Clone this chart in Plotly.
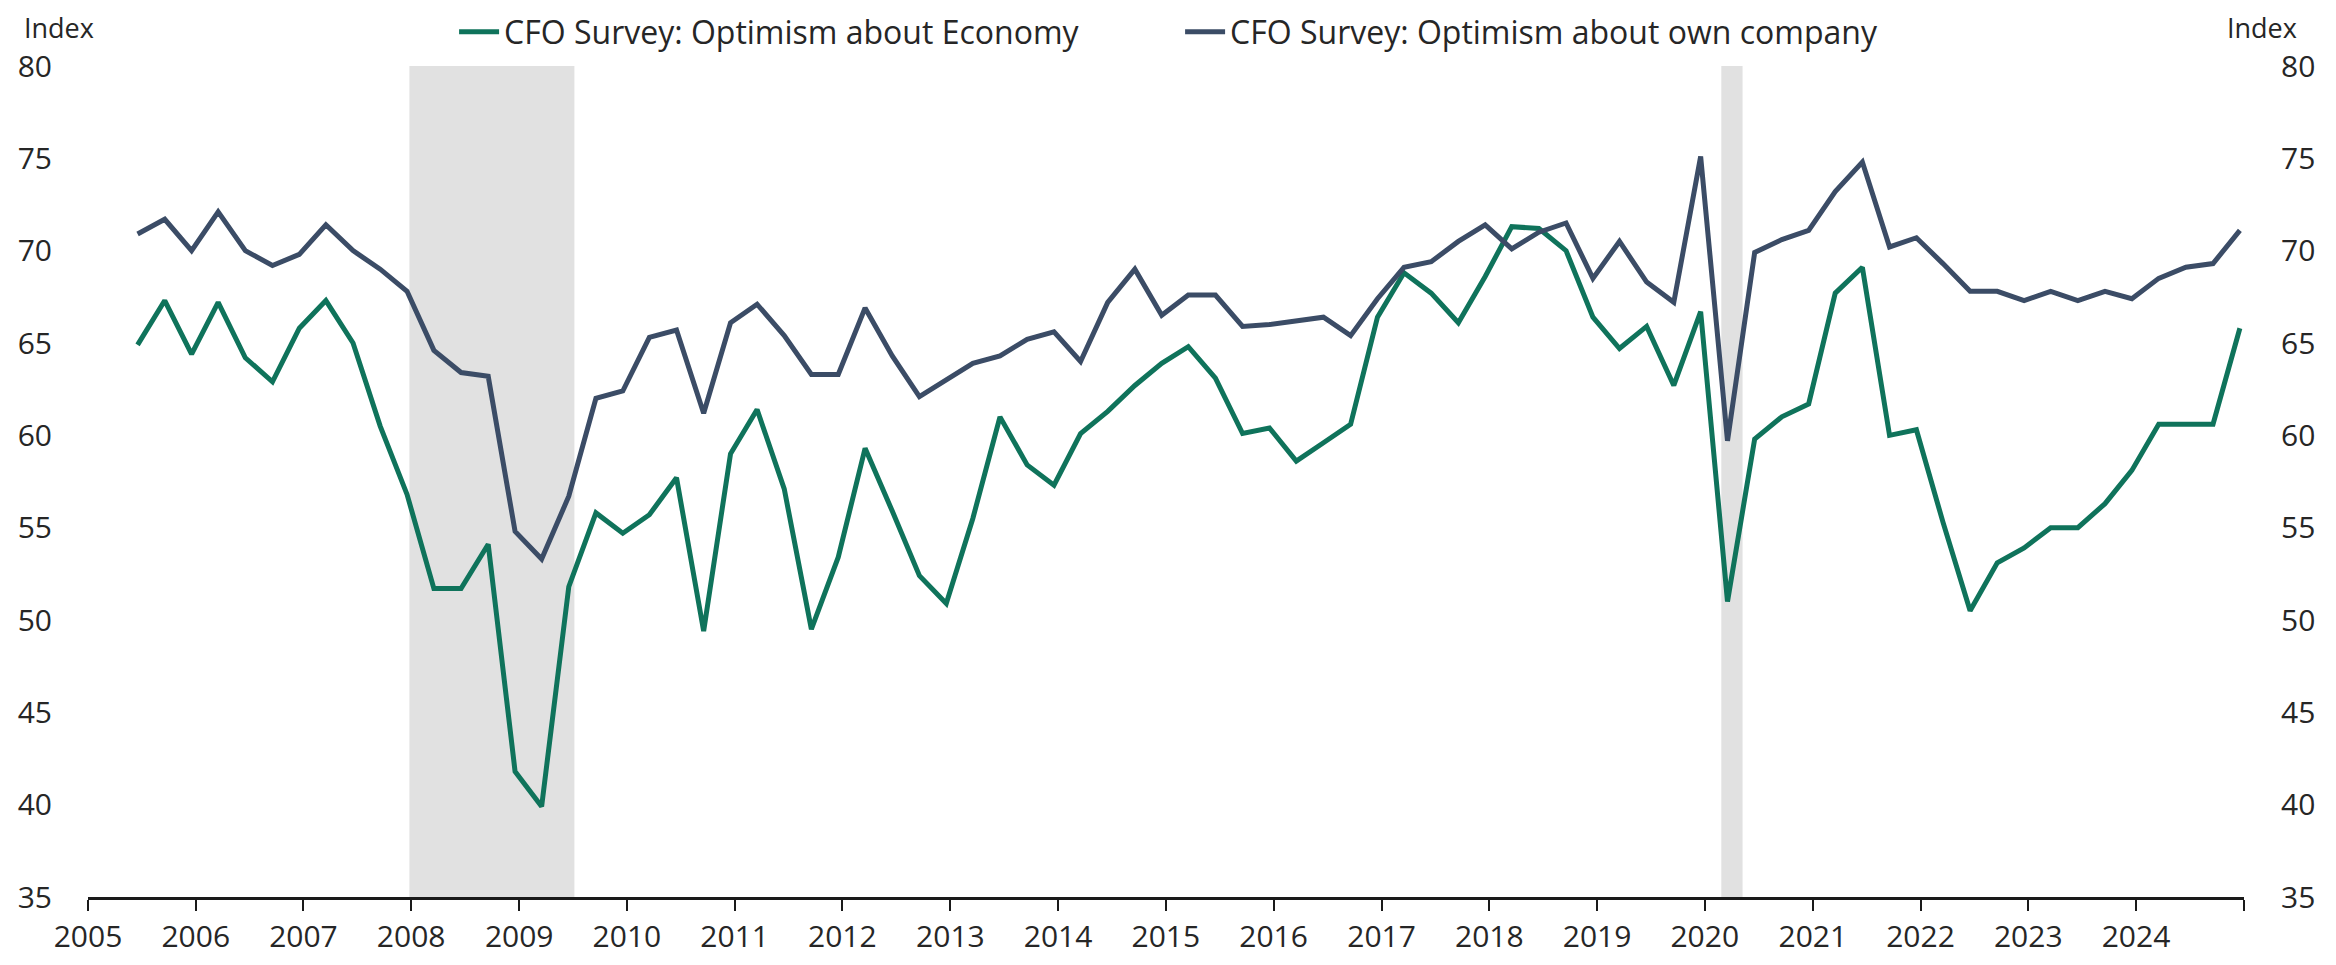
import plotly.graph_objects as go

# ---- Data (quarterly, Jun 2005 .. Dec 2024) ----
years = list(range(2005, 2025))
quarter_months = [3, 6, 9, 12]
dates = [f"{y}-{m:02d}-18" for y in years for m in quarter_months if not (y == 2005 and m == 3)]

economy = [
    64.9, 67.3, 64.4,
    67.2, 64.2, 62.9, 65.8,
    67.3, 65.0, 60.5, 56.8,
    51.7, 51.7, 54.1, 41.8,
    39.9, 51.8, 55.8, 54.7,
    55.7, 57.7, 49.4, 59.0,
    61.4, 57.1, 49.5, 53.4,
    59.3, 55.9, 52.4, 50.9,
    55.5, 61.0, 58.4, 57.3,
    60.1, 61.3, 62.7, 63.9,
    64.8, 63.1, 60.1, 60.4,
    58.6, 59.6, 60.6, 66.4,
    68.8, 67.7, 66.1, 68.6,
    71.3, 71.2, 70.0, 66.4,
    64.7, 65.9, 62.7, 66.7,
    51.0, 59.8, 61.0, 61.7,
    67.7, 69.1, 60.0, 60.3,
    55.3, 50.5, 53.1, 53.9,
    55.0, 55.0, 56.3, 58.1,
    60.6, 60.6, 60.6, 65.8,
]

own_company = [
    70.9, 71.7, 70.0,
    72.1, 70.0, 69.2, 69.8,
    71.4, 70.0, 69.0, 67.8,
    64.6, 63.4, 63.2, 54.8,
    53.3, 56.7, 62.0, 62.4,
    65.3, 65.7, 61.2, 66.1,
    67.1, 65.4, 63.3, 63.3,
    66.9, 64.3, 62.1, 63.0,
    63.9, 64.3, 65.2, 65.6,
    64.0, 67.2, 69.0, 66.5,
    67.6, 67.6, 65.9, 66.0,
    66.2, 66.4, 65.4, 67.4,
    69.1, 69.4, 70.5, 71.4,
    70.1, 71.0, 71.5, 68.5,
    70.5, 68.3, 67.2, 75.1,
    59.7, 69.9, 70.6, 71.1,
    73.2, 74.8, 70.2, 70.7,
    69.3, 67.8, 67.8, 67.3,
    67.8, 67.3, 67.8, 67.4,
    68.5, 69.1, 69.3, 71.1,
]

recession_starts = ["2007-12-26", "2020-02-26"]
recession_ends = ["2009-07-07", "2020-05-08"]

tick_years = list(range(2005, 2026))
tick_vals = [f"{y}-01-01" for y in tick_years]
tick_text = [str(y) if y < 2025 else "" for y in tick_years]
y_ticks = [35, 40, 45, 50, 55, 60, 65, 70, 75, 80]

GREEN = "#0f735b"
NAVY = "#3b4c66"
FONT = "Open Sans"
TXT = "#262626"

fig = go.Figure()
fig.add_trace(go.Scatter(
    x=dates, y=economy, mode="lines", name="CFO Survey: Optimism about Economy",
    line=dict(color=GREEN, width=5), yaxis="y"))
fig.add_trace(go.Scatter(
    x=dates, y=own_company, mode="lines", name="CFO Survey: Optimism about own company",
    line=dict(color=NAVY, width=5), yaxis="y2"))

for s, e in zip(recession_starts, recession_ends):
    fig.add_shape(type="rect", xref="x", yref="y", x0=s, x1=e, y0=35, y1=80,
                  fillcolor="#e1e1e1", line=dict(width=0), layer="below")

# page body has an 8px default margin, so the figure is sized to fit inside it
fig.update_layout(
    width=2320, height=949,
    margin=dict(l=80, r=84, t=58, b=60, autoexpand=False),
    paper_bgcolor="white", plot_bgcolor="white",
    font=dict(family=FONT, size=30, color=TXT),
    showlegend=True,
    legend=dict(orientation="h", x=0.1698, y=1.041, xanchor="left", yanchor="middle",
                font=dict(family=FONT, size=32, color=TXT),
                bgcolor="rgba(0,0,0,0)", entrywidth=671, entrywidthmode="pixels",
                itemwidth=40, tracegroupgap=0),
    xaxis=dict(type="date", range=["2005-01-01", "2025-01-01"],
               tickvals=tick_vals, ticktext=tick_text, automargin=False,
               ticks="outside", ticklen=11, tickwidth=2, tickcolor="#1a1a1a",
               showline=True, linecolor="#1a1a1a", linewidth=2.5,
               showgrid=False, zeroline=False,
               tickfont=dict(family=FONT, size=30, color=TXT)),
    yaxis=dict(range=[35, 80], tickvals=y_ticks, showgrid=False, zeroline=False,
               showline=False, ticks="", ticklabelstandoff=35, automargin=False,
               tickfont=dict(family=FONT, size=30, color=TXT)),
    yaxis2=dict(range=[35, 80], tickvals=y_ticks, overlaying="y", side="right",
                showgrid=False, zeroline=False, showline=False, ticks="",
                ticklabelstandoff=36, automargin=False,
                tickfont=dict(family=FONT, size=30, color=TXT)),
)

for ax_x, anchor in [(-0.0305, "left"), (1.0255, "right")]:
    fig.add_annotation(text="Index", xref="paper", yref="paper", x=ax_x, y=1.0469,
                       xanchor=anchor, yanchor="middle", showarrow=False,
                       font=dict(family=FONT, size=27, color=TXT))

fig.write_html("out.html")
